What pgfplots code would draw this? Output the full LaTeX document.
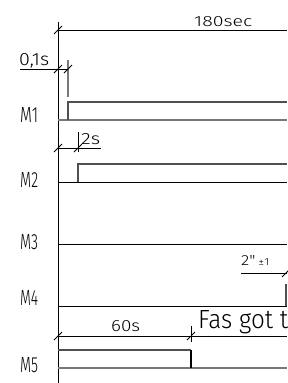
\documentclass[border=0pt]{standalone}
\usepackage{pgfplots}
\pgfplotsset{compat=1.18}
\usepackage{graphicx}
\usepackage{fontspec}
\setmainfont{Fira Sans}[UprightFont={* Light}]
\definecolor{sig}{HTML}{505050}
\definecolor{base}{HTML}{787878}
\newcommand\lbl[5]{\node[anchor=south west,inner sep=0pt] at (axis cs:#1,#2) {\resizebox{#3pt}{#4pt}{#5}};}
\begin{document}
\begin{tikzpicture}
\begin{axis}[scale only axis, width=287pt, height=383pt,
  xmin=0, xmax=287, ymin=0, ymax=383, y dir=reverse, hide axis, clip=false]
% thin black lines
\addplot[black,line width=0.9pt] coordinates {(58,22) (58,383)};
\addplot[black,line width=0.9pt] coordinates {(58,30) (287,30)};
\addplot[black,line width=0.9pt] coordinates {(20,69) (68,69)};
\addplot[black,line width=0.9pt] coordinates {(58,148) (101,148)};
\addplot[black,line width=0.9pt] coordinates {(58,182) (287,182)};
\addplot[black,line width=0.9pt] coordinates {(58,244) (287,244)};
\addplot[black,line width=0.9pt] coordinates {(58,306) (287,306)};
\addplot[black,line width=0.9pt] coordinates {(241,273) (287,273)};
\addplot[black,line width=0.9pt] coordinates {(58,336) (287,336)};
\addplot[black,line width=0.9pt] coordinates {(78,132) (78,152)};
\addplot[black,line width=0.9pt] coordinates {(191,326) (191,342)};
\addplot[base,line width=1.2pt] coordinates {(68,60) (68,97)};
% slashes
\addplot[black,line width=0.9pt] coordinates {(54,34) (62,26)};
\addplot[black,line width=0.9pt] coordinates {(54,73) (62,65)};
\addplot[black,line width=0.9pt] coordinates {(64,73) (72,65)};
\addplot[black,line width=0.9pt] coordinates {(54,152) (62,144)};
\addplot[black,line width=0.9pt] coordinates {(74,152) (82,144)};
\addplot[black,line width=0.9pt] coordinates {(282,277) (290,269)};
\addplot[black,line width=0.9pt] coordinates {(54,340) (62,332)};
\addplot[black,line width=0.9pt] coordinates {(187,340) (195,332)};
% signals
\addplot[base,line width=1.8pt] coordinates {(58,120) (287,120)};
\addplot[sig,line width=2.2pt] coordinates {(68,120) (68,102) (287,102)};
\addplot[sig,line width=2.2pt] coordinates {(78,182) (78,164) (287,164)};
\addplot[sig,line width=2.2pt] coordinates {(286,306) (286,284)};
\addplot[base,line width=1.5pt] coordinates {(58,368) (287,368)};
\addplot[sig,line width=1.5pt] coordinates {(58,350) (191,350)};
\addplot[black,line width=2.2pt] coordinates {(191,350) (191,368)};
% labels
\lbl{194}{27}{58}{10}{180sec}
\lbl{19}{68}{30}{12}{0,1s}
\lbl{81}{145}{19}{11}{2s}
\lbl{241}{266}{28}{10}{2\textquotedbl\,{\scriptsize ±1}}
\lbl{111}{332}{29}{11}{60s}
\lbl{198}{334}{90}{18}{Fas got t}
\lbl{20}{123}{18}{15}{M1}
\lbl{20}{188}{18}{15}{M2}
\lbl{20}{250}{18}{15}{M3}
\lbl{20}{306}{18}{15}{M4}
\lbl{20}{373}{18}{15}{M5}
\end{axis}
\pgfresetboundingbox
\path (current axis.south west) rectangle (current axis.north east);
\end{tikzpicture}
\end{document}
